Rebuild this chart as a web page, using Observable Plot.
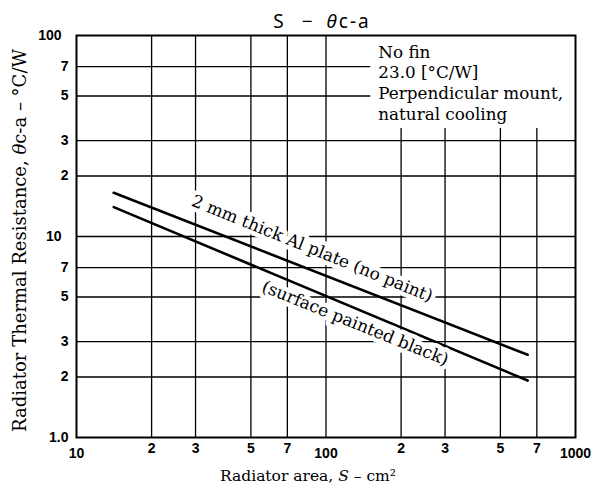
<!DOCTYPE html>
<html><head><meta charset="utf-8">
<script src="https://cdn.jsdelivr.net/npm/d3@7"></script>
<script src="https://cdn.jsdelivr.net/npm/@observablehq/plot@0.6"></script>
<style>body{margin:0;background:#fff}</style>
</head><body><div id="chart"></div>
<script>
// Data
const area = [14.1, 643];               // S, cm²
const noPaint = [16.5, 2.58];           // θc-a, °C/W (2 mm Al plate, no paint)
const paintedBlack = [14.0, 1.92];      // θc-a, °C/W (surface painted black)
const seriesNames = ["no paint", "painted black"];

const xGrid = [20, 30, 50, 70, 100, 200, 300, 500, 700];
const yGrid = [2, 3, 5, 7, 10, 20, 30, 50, 70];
const xDigitTicks = [20, 30, 50, 70, 200, 300, 500, 700];
const xDigitLabels = ["2", "3", "5", "7", "2", "3", "5", "7"];
const xDecadeTicks = [10, 100, 1000];
const xDecadeLabels = ["10", "100", "1000"];
const yDigitTicks = [1, 2, 3, 5, 7, 20, 30, 50, 70];
const yDigitLabels = ["1.0", "2", "3", "5", "7", "2", "3", "5", "7"];
const yDecadeTicks = [10, 100];
const yDecadeLabels = ["10", "100"];

const lineLabelText = ["2 mm thick Al plate (no paint)", "(surface painted black)"];
const lineLabelS = [88, 131];
const lineLabelR = [8.7, 3.7];

const noteText = "No fin\n23.0 [°C/W]\nPerpendicular mount,\nnatural cooling";
const noteS = 162;
const noteR = 92;

const titleText = "S − θc-a";
const xLabel = "Radiator area, S – cm²";
const yLabel = "Radiator Thermal Resistance, θc-a – °C/W";

const rows = [];
area.forEach((s, i) => rows.push({S: s, R: noPaint[i], series: seriesNames[0]}));
area.forEach((s, i) => rows.push({S: s, R: paintedBlack[i], series: seriesNames[1]}));
const lineLabels = lineLabelText.map((t, i) => ({t, S: lineLabelS[i], R: lineLabelR[i]}));

const serif = "DejaVu Serif";
const tickFont = {fontFamily: "Liberation Sans", fontWeight: "bold", fontSize: 14, fill: "black"};

const chart = Plot.plot({
  width: 601, height: 488,
  marginLeft: 76, marginRight: 26, marginTop: 35, marginBottom: 51,
  x: {type: "log", domain: [10, 1000], axis: null},
  y: {type: "log", domain: [1, 100], axis: null},
  style: {background: "white", color: "black"},
  marks: [
    Plot.ruleX(xGrid, {x: d => d, stroke: "black", strokeWidth: 1.3}),
    Plot.ruleY(yGrid, {y: d => d, stroke: "black", strokeWidth: 1.3}),
    Plot.line(rows, {x: "S", y: "R", z: "series", stroke: "black", strokeWidth: 2.6}),
    Plot.text(lineLabels, {x: "S", y: "R", text: "t", rotate: 22, fontFamily: serif, fontSize: 17,
      fill: "black", stroke: "white", strokeWidth: 9, paintOrder: "stroke"}),
    Plot.text([noteText], {x: () => noteS, y: () => noteR, text: d => d, textAnchor: "start", lineAnchor: "top",
      lineHeight: 1.24, fontFamily: serif, fontSize: 16.8, fill: "black"}),
    Plot.frame({stroke: "black", strokeWidth: 2}),
    Plot.text(xDigitTicks, {x: d => d, frameAnchor: "bottom", dy: 6, lineAnchor: "top",
      text: (d, i) => xDigitLabels[i], ...tickFont}),
    Plot.text(xDecadeTicks, {x: d => d, frameAnchor: "bottom", dy: 11, lineAnchor: "top",
      text: (d, i) => xDecadeLabels[i], ...tickFont}),
    Plot.text(yDigitTicks, {y: d => d, frameAnchor: "left", dx: -8, textAnchor: "end",
      text: (d, i) => yDigitLabels[i], ...tickFont}),
    Plot.text(yDecadeTicks, {y: d => d, frameAnchor: "left", dx: -15, textAnchor: "end",
      text: (d, i) => yDecadeLabels[i], ...tickFont}),
    Plot.text([titleText], {frameAnchor: "top", dx: -4, dy: -14, text: d => d, textAnchor: "middle", lineAnchor: "middle",
      fontFamily: "Noto Sans", fontSize: 19, fill: "black"}),
    Plot.text([xLabel], {frameAnchor: "bottom", dx: -18, dy: 39, text: d => d, textAnchor: "middle", lineAnchor: "middle",
      fontFamily: serif, fontSize: 15.5, fill: "black"}),
    Plot.text([yLabel], {frameAnchor: "left", dx: -56, dy: 4, rotate: -90, textAnchor: "middle", lineAnchor: "middle",
      text: d => d, fontFamily: serif, fontSize: 18, fill: "black"})
  ]
});
document.getElementById("chart").appendChild(chart);

// italic symbols and title spacing
const svg = d3.select(chart);
let noteEl = null;
svg.selectAll("text").each(function() {
  const t = this.textContent;
  if (t === titleText) {
    this.innerHTML = "S<tspan dx='16'>−</tspan><tspan dx='12' font-style='italic'>θ</tspan>c-a";
    this.setAttribute("letter-spacing", "2");
  }
  else if (t === xLabel) this.innerHTML = "Radiator area, <tspan font-style='italic'>S</tspan> – cm²";
  else if (t === yLabel) this.innerHTML = "Radiator Thermal Resistance, <tspan font-style='italic'>θ</tspan>c-a – °C/W";
  else if (t.includes("No fin")) noteEl = this;
});

// white background behind the note, sized from the rendered note text itself
if (noteEl) {
  const g = noteEl.parentNode;
  const sb = chart.getBoundingClientRect();
  const b = noteEl.getBoundingClientRect();
  const xs = chart.scale("x");
  const right = xs.apply(xs.domain[1]);
  const left = b.left - sb.left - 8;
  const top = b.top - sb.top - 6;
  const rect = document.createElementNS("http://www.w3.org/2000/svg", "rect");
  rect.setAttribute("x", left);
  rect.setAttribute("y", top);
  rect.setAttribute("width", right - left);
  rect.setAttribute("height", b.height + 10);
  rect.setAttribute("fill", "white");
  g.parentNode.insertBefore(rect, g);
}
</script>
</body></html>
